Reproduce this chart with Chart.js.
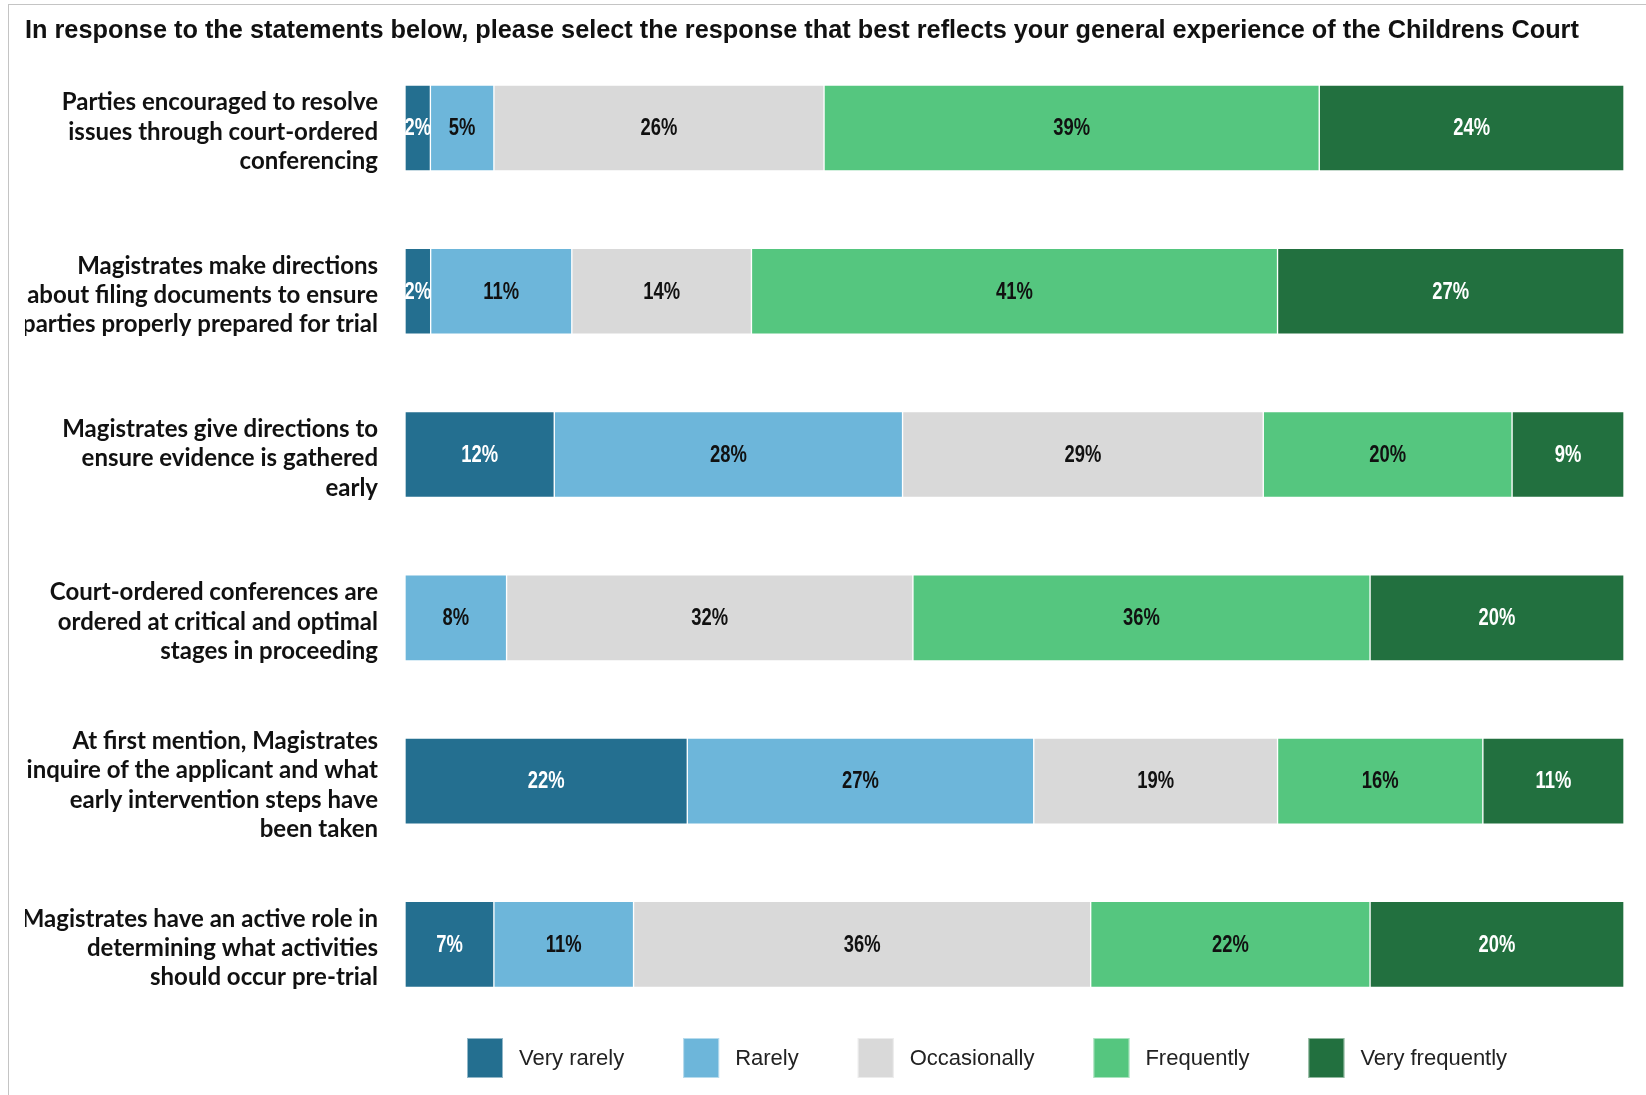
<!DOCTYPE html>
<html>
<head>
<meta charset="utf-8">
<script src="https://cdn.jsdelivr.net/npm/chart.js@4/dist/chart.umd.min.js"></script>
<style>
  body { margin: 0; background: #fff; }
  #wrap { position: relative; width: 1646px; height: 1095px; }
  #frame { position: absolute; left: 8px; top: 4px; right: 0; bottom: 0;
           border-top: 1px solid #c4c4c4; border-left: 1px solid #c4c4c4; pointer-events: none; }
</style>
</head>
<body>
<div id="wrap">
  <canvas id="bar-chartcanvas-1"></canvas>
  <div id="frame"></div>
</div>
<script>
var statements = [
	["Parties encouraged to resolve", "issues through court-ordered", "conferencing"],
	["Magistrates make directions", "about filing documents to ensure", "parties properly prepared for trial"],
	["Magistrates give directions to", "ensure evidence is gathered", "early"],
	["Court-ordered conferences are", "ordered at critical and optimal", "stages in proceeding"],
	["At first mention, Magistrates", "inquire of the applicant and what", "early intervention steps have", "been taken"],
	["Magistrates have an active role in", "determining what activities", "should occur pre-trial"]
];
var responses = ["Very rarely", "Rarely", "Occasionally", "Frequently", "Very frequently"];

// percentages as printed on the bars (rows do not add to 100, bars are scaled to full width)
var veryRarely     = [2, 2, 12, 0, 22, 7];
var rarely         = [5, 11, 28, 8, 27, 11];
var occasionally   = [26, 14, 29, 32, 19, 36];
var frequently     = [39, 41, 20, 36, 16, 22];
var veryFrequently = [24, 27, 9, 20, 11, 20];

var colours    = ["#246f90", "#6db6da", "#d9d9d9", "#55c67f", "#22703f"];
var labelInk   = ["#ffffff", "#111111", "#111111", "#111111", "#ffffff"];

var series = [veryRarely, rarely, occasionally, frequently, veryFrequently];
var rowTotals = statements.map(function(s, i){
	var t = 0;
	for (var k = 0; k < series.length; k++) t += series[k][i];
	return t;
});

var datasets = series.map(function(vals, k){
	return {
		label: responses[k],
		data: vals.map(function(v, i){ return v / rowTotals[i] * 100; }),
		shown: vals,
		backgroundColor: colours[k],
		borderColor: "rgba(255,255,255,0.85)",
		borderWidth: 1,
		borderSkipped: false,
		barThickness: 86
	};
});

// printed value in the middle of each segment (narrowed like Arial Narrow)
var segmentLabels = {
	id: "segmentLabels",
	afterDatasetsDraw: function(chart){
		var ctx = chart.ctx;
		chart.data.datasets.forEach(function(ds, k){
			chart.getDatasetMeta(k).data.forEach(function(bar, i){
				var v = ds.shown[i];
				if (!v) return;
				var p = bar.getProps(["x", "y", "base"], true);
				ctx.save();
				ctx.translate((p.x + p.base) / 2, p.y + 1);
				ctx.scale(0.8, 1);
				ctx.font = 'bold 23px "Liberation Sans", Arial, sans-serif';
				ctx.textAlign = "center";
				ctx.textBaseline = "middle";
				ctx.fillStyle = labelInk[k];
				ctx.fillText(v + "%", 0, 0);
				ctx.restore();
			});
		});
	}
};

// legend with tall swatches and wide gaps, drawn under the plot
var swatchLegend = {
	id: "swatchLegend",
	afterDraw: function(chart){
		var ctx = chart.ctx;
		var area = chart.chartArea;
		var x = area.left + 62, yTop = 1038, bw = 36, bh = 40;
		ctx.save();
		ctx.font = '22px "Liberation Sans", Arial, sans-serif';
		ctx.textBaseline = "middle";
		chart.data.datasets.forEach(function(ds){
			ctx.fillStyle = ds.backgroundColor;
			ctx.fillRect(x, yTop, bw, bh);
			ctx.strokeStyle = "rgba(255,255,255,0.5)";
			ctx.strokeRect(x + 0.5, yTop + 0.5, bw - 1, bh - 1);
			ctx.fillStyle = "#222";
			ctx.fillText(ds.label, x + bw + 16, yTop + bh / 2 + 1);
			x += bw + 16 + ctx.measureText(ds.label).width + 59;
		});
		ctx.restore();
	}
};

var ctx = document.getElementById("bar-chartcanvas-1");
var chart = new Chart(ctx, {
	type: "bar",
	data: { labels: statements, datasets: datasets },
	plugins: [segmentLabels, swatchLegend],
	options: {
		indexAxis: "y",
		responsive: true,
		maintainAspectRatio: false,
		animation: false,
		layout: { padding: { left: 25, right: 22, top: 0, bottom: 69 } },
		scales: {
			x: { stacked: true, min: 0, max: 100, display: false },
			y: {
				stacked: true,
				grid: { display: false, drawTicks: false },
				border: { display: false },
				ticks: {
					padding: 27,
					labelOffset: 4,
					color: "#111",
					font: { family: 'Lato, "Open Sans", sans-serif', size: 24, weight: "bold", lineHeight: 1.225 }
				},
				afterFit: function(scale){
					scale.width = 380;
					// the tall multi-line labels must not push the plot down
					scale.paddingTop = 0;
					scale.paddingBottom = 0;
				}
			}
		},
		plugins: {
			legend: { display: false },
			tooltip: { enabled: false },
			title: {
				display: true,
				align: "start",
				text: "In response to the statements below, please select the response that best reflects your general experience of the Childrens Court",
				color: "#111",
				font: { family: '"Liberation Sans", Arial, sans-serif', size: 25.3, weight: "bold", lineHeight: 1.2 },
				padding: { top: 16, bottom: 0 }
			}
		}
	}
});
</script>
</body>
</html>
